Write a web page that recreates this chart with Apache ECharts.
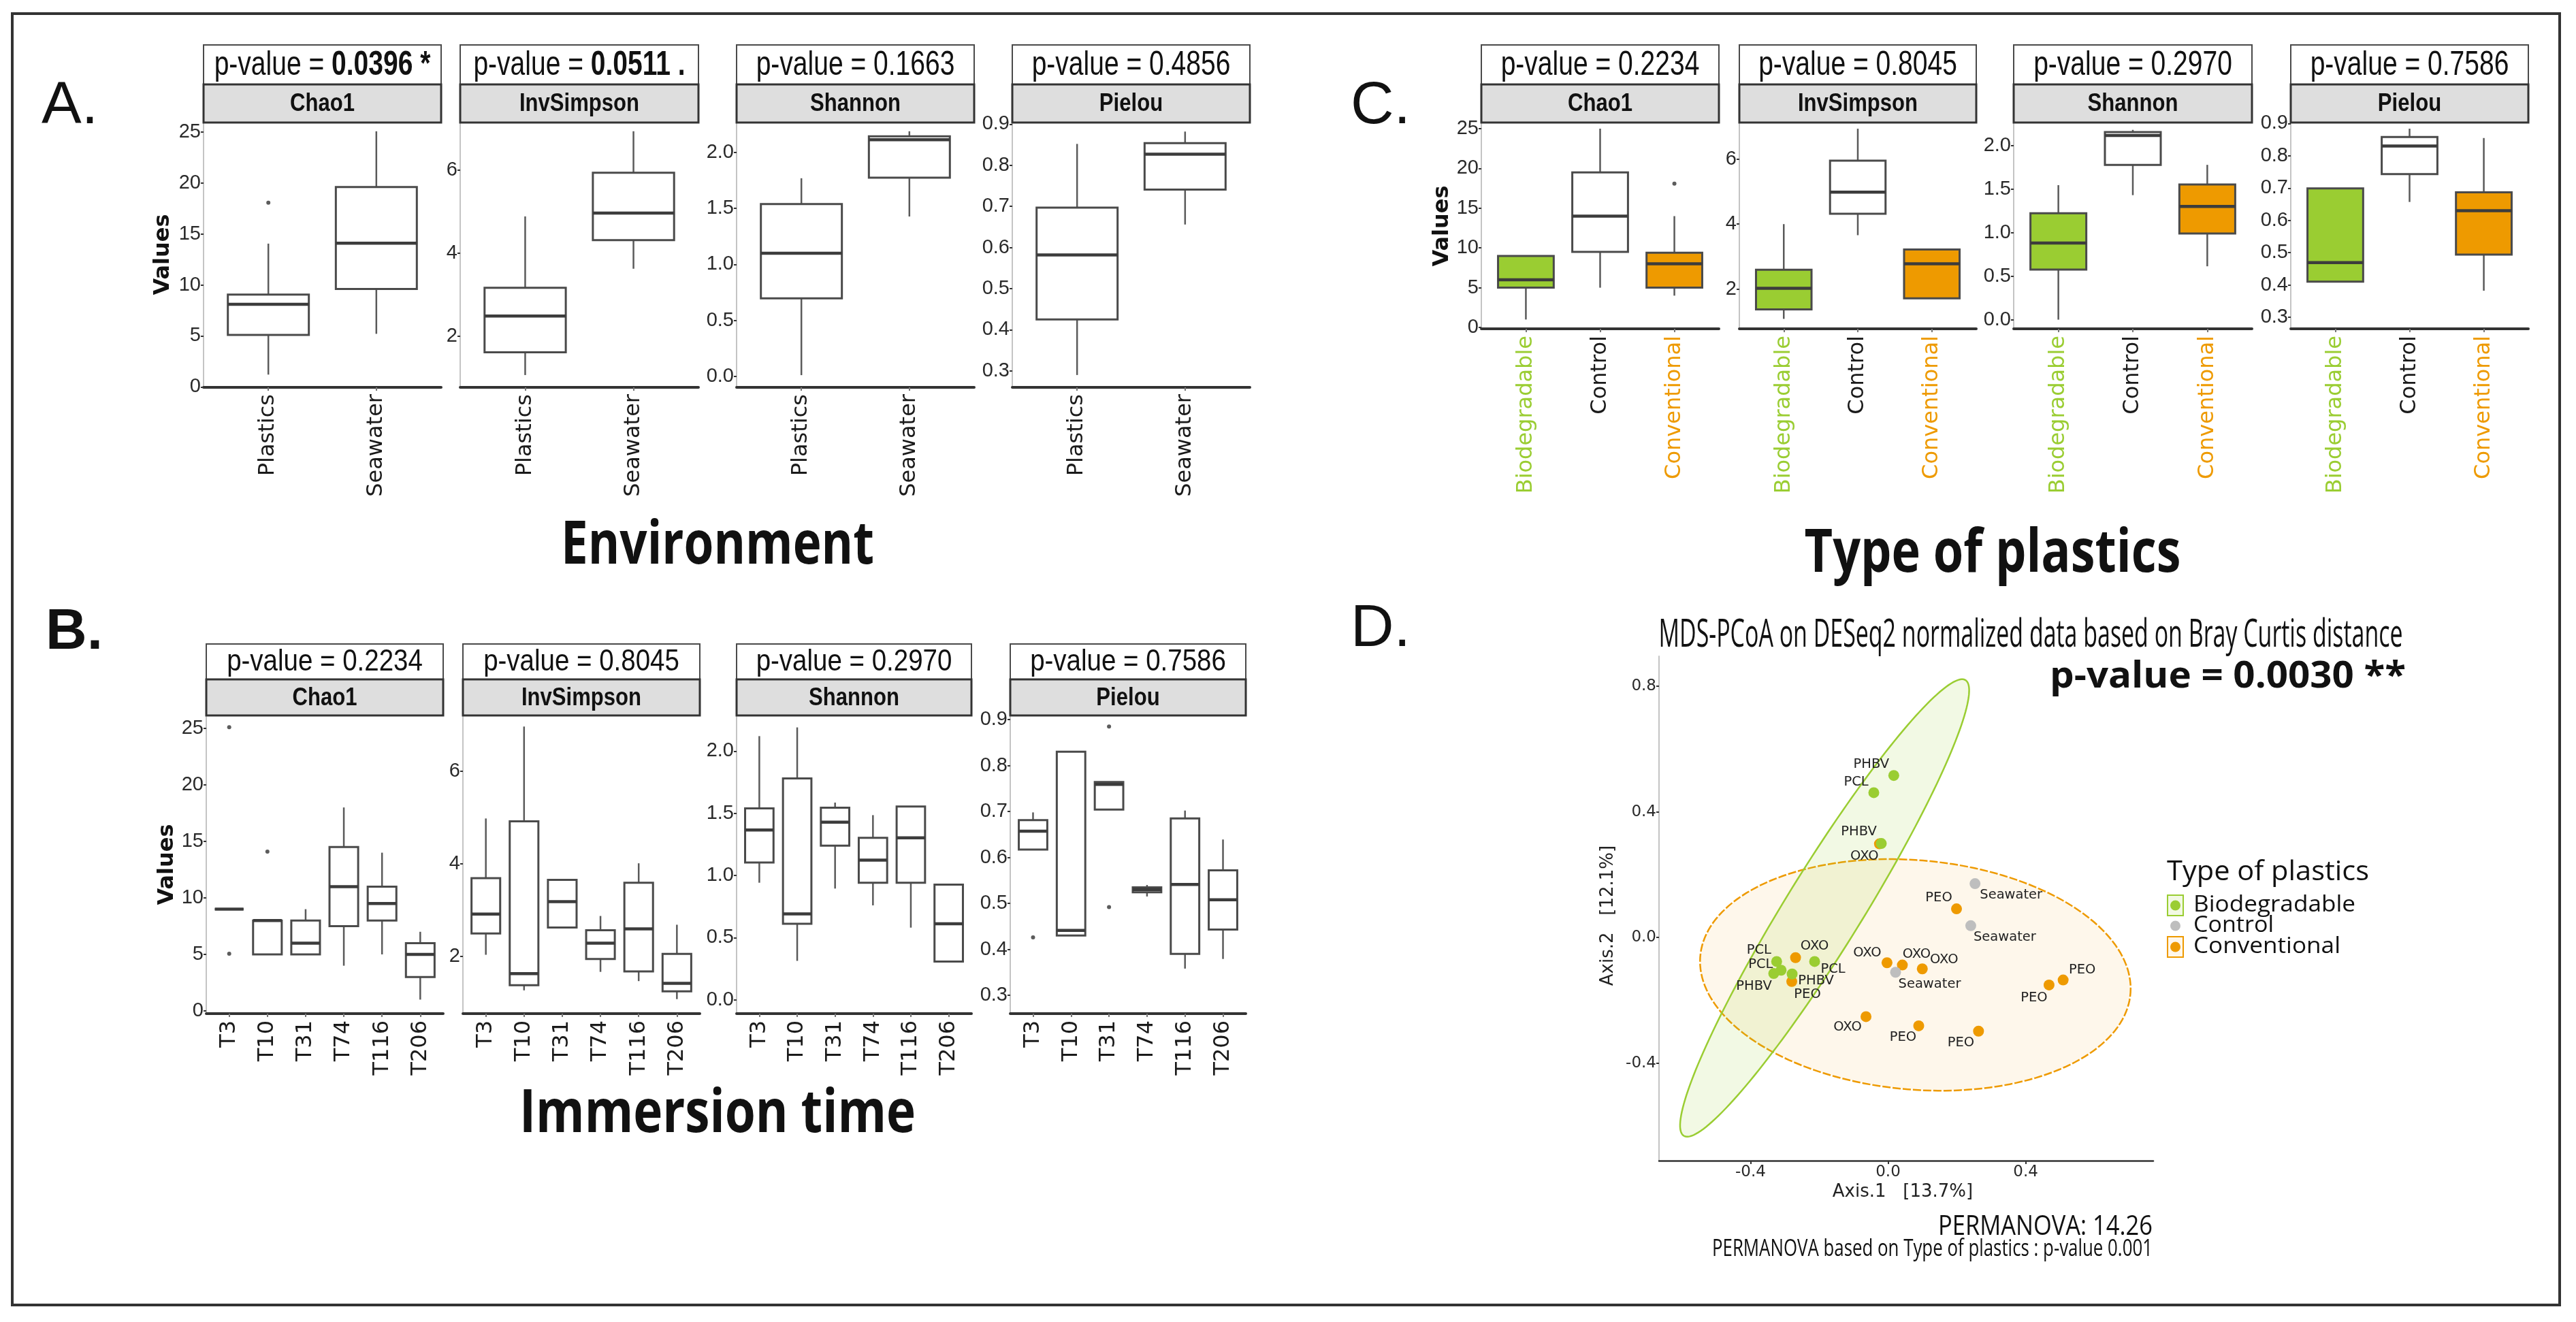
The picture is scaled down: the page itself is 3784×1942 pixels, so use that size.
<!DOCTYPE html>
<html><head><meta charset="utf-8">
<script src="https://cdn.jsdelivr.net/npm/echarts@6.0.0/dist/echarts.min.js"></script>
<style>html,body{margin:0;padding:0;background:#fff;}#main{width:3784px;height:1942px;}</style>
</head><body><div id="main"></div>
<script>
// ================= DATA =================
const metrics = ['Chao1', 'InvSimpson', 'Shannon', 'Pielou'];
const envCategories = ['Plastics', 'Seawater'];
const typeCategories = ['Biodegradable', 'Control', 'Conventional'];
const timeCategories = ['T3', 'T10', 'T31', 'T74', 'T116', 'T206'];

const envPValues = ['0.0396 *', '0.0511 .', '0.1663', '0.4856'];
const envPBold = [true, true, false, false];
const typePValues = ['0.2234', '0.8045', '0.2970', '0.7586'];
const timePValues = ['0.2234', '0.8045', '0.2970', '0.7586'];

// box stats per category: [lower whisker, Q1, median, Q3, upper whisker]
const envChao1 = [[1.2, 5.1, 8.1, 9.05, 14.05], [5.2, 9.6, 14.1, 19.6, 25.07]];
const envInvSimpson = [[1.07, 1.62, 2.49, 3.17, 4.89], [3.63, 4.32, 4.97, 5.94, 6.94]];
const envShannon = [[0.01, 0.696, 1.10, 1.54, 1.77], [1.428, 1.775, 2.115, 2.145, 2.19]];
const envPielou = [[0.29, 0.425, 0.582, 0.697, 0.852], [0.656, 0.741, 0.827, 0.854, 0.882]];
const envOutliers = [[[18.07], []], [[], []], [[], []], [[], []]];

const typeChao1 = [[1.0, 5.0, 6.0, 9.0, 9.0], [5.0, 9.5, 14.0, 19.5, 25.0], [4.0, 5.0, 8.0, 9.4, 14.0]];
const typeInvSimpson = [[1.09, 1.38, 2.03, 2.60, 4.0], [3.66, 4.32, 4.98, 5.95, 6.93], [1.72, 1.72, 2.78, 3.22, 3.22]];
const typeShannon = [[0.0, 0.575, 0.881, 1.222, 1.545], [1.43, 1.778, 2.116, 2.155, 2.18], [0.613, 0.99, 1.30, 1.552, 1.778]];
const typePielou = [[0.41, 0.41, 0.469, 0.699, 0.699], [0.657, 0.743, 0.830, 0.858, 0.884], [0.382, 0.494, 0.630, 0.687, 0.855]];
const typeOutliers = [[[], [], [18.08]], [[], [], []], [[], [], []], [[], [], []]];

const timeChao1 = [[9, 9, 9, 9, 9], [5, 5, 8, 8, 8], [5, 5, 6, 8, 9], [4, 7.5, 11, 14.5, 18], [5, 8, 9.5, 11, 14], [1, 3, 5, 6, 7]];
const timeInvSimpson = [[2.03, 2.49, 2.91, 3.69, 4.98], [1.26, 1.37, 1.62, 4.92, 6.97], [2.62, 2.62, 3.18, 3.65, 3.65], [1.66, 1.94, 2.28, 2.56, 2.87], [1.46, 1.67, 2.59, 3.59, 4.01], [1.07, 1.24, 1.41, 2.05, 2.68]];
const timeShannon = [[0.942, 1.105, 1.366, 1.539, 2.12], [0.314, 0.612, 0.691, 1.78, 2.19], [0.895, 1.24, 1.429, 1.545, 1.586], [0.76, 0.942, 1.124, 1.303, 1.485], [0.581, 0.942, 1.303, 1.554, 1.554], [0.308, 0.308, 0.612, 0.926, 0.926]];
const timePielou = [[0.617, 0.617, 0.657, 0.681, 0.698], [0.43, 0.43, 0.441, 0.830, 0.830], [0.704, 0.704, 0.759, 0.764, 0.764], [0.515, 0.524, 0.530, 0.535, 0.54], [0.358, 0.39, 0.541, 0.685, 0.702], [0.379, 0.443, 0.508, 0.572, 0.639]];
const timeOutliers = [[[25.1, 5.06], [14.1], [], [], [], []], [[], [], [], [], [], []], [[], [], [], [], [], []], [[0.426], [], [0.885, 0.492], [], [], []]];

// y-axis limits of each facet
const envYRange = [[-0.05, 25.93], [0.774, 7.15], [-0.099, 2.268], [0.26, 0.904]];
const typeYRange = [[-0.17, 25.77], [0.785, 7.12], [-0.105, 2.264], [0.264, 0.903]];
const timeYRange = [[-0.24, 26.14], [0.756, 7.21], [-0.11, 2.286], [0.26, 0.909]];

// tick values
const chao1Ticks = [0, 5, 10, 15, 20, 25];
const invSimpsonTicks = [2, 4, 6];
const shannonTicks = [0, 0.5, 1, 1.5, 2];
const pielouTicks = [0.3, 0.4, 0.5, 0.6, 0.7, 0.8, 0.9];

// PCoA points
const bioNames = ['PHBV', 'PCL', 'PHBV', 'PCL', 'PCL', 'PHBV', 'PHBV', 'PCL'];
const bioX = [0.0166, -0.0415, -0.0197, -0.324, -0.311, -0.3325, -0.279, -0.2136];
const bioY = [0.5155, 0.4608, 0.2991, -0.0763, -0.104, -0.1146, -0.116, -0.0763];
const convNames = ['OXO', 'OXO', 'PEO', 'PEO', 'OXO', 'OXO', 'OXO', 'PEO', 'PEO', 'OXO', 'PEO', 'PEO'];
const convX = [-0.025, -0.269, -0.280, 0.199, -0.0031, 0.0415, 0.0995, 0.509, 0.468, -0.0642, 0.0891, 0.263];
const convY = [0.298, -0.064, -0.140, 0.0912, -0.0802, -0.0875, -0.0997, -0.135, -0.151, -0.2517, -0.2809, -0.2979];
const ctrlNames = ['Seawater', 'Seawater', 'Seawater'];
const ctrlX = [0.2528, 0.2404, 0.0218];
const ctrlY = [0.1714, 0.0377, -0.1106];
const pcoaXTicks = [-0.4, 0, 0.4];
const pcoaYTicks = [-0.4, 0, 0.4, 0.8];
const pcoaXRange = [-0.666, 0.771];
const pcoaYRange = [-0.71, 0.895];
// ellipses: centre and two conjugate semi-diameters, in data units
const ellipseBio = [-0.1845, 0.094, 0.4095, 0.725, 0.0945, -0.0637];
const ellipseConv = [0.0793, -0.119, 0.626, -0.0433, 0.0, -0.3658];

// ================= STYLE / LAYOUT =================
const GREEN = '#9ACD32', ORANGE = '#EE9A00', GREY = '#BEBEBE';
const bioLabelOffset = [[-33, -16], [-26, -16], [-33, -17], [-26, -16], [-30, -8], [-29, 19], [35, 10], [27, 12]];
const convLabelOffset = [[-22, 18], [28, -17], [23, 19], [-26, -16], [-29, -14], [21, -16], [32, -13], [28, -15], [-22, 19], [-27, 16], [-23, 17], [-26, 17]];
const ctrlLabelOffset = [[53, 17], [50, 17], [50, 18]];

const rowA = { pTop: 66, stripTop: 124, stripBottom: 180, plotBottom: 569, xs: [[299, 648], [676, 1026], [1082, 1431], [1487, 1836]] };
const rowB = { pTop: 946, stripTop: 998, stripBottom: 1051, plotBottom: 1489, xs: [[303, 651], [680, 1028], [1082, 1427], [1484, 1830]] };
const rowC = { pTop: 66, stripTop: 124, stripBottom: 180, plotBottom: 483, xs: [[2176, 2525], [2555, 2903], [2958, 3308], [3365, 3714]] };

const mctx = document.createElement('canvas').getContext('2d');
function textW(text, size, family, weight) {
  mctx.font = (weight || 'normal') + ' ' + size + 'px "' + family + '"';
  return mctx.measureText(text).width;
}

const grids = [], xAxes = [], yAxes = [], series = [], graphics = [];

function addText(x, y, text, o) {
  const fs = o.fs, ff = o.ff || 'Liberation Sans', fw = o.fw || 'normal';
  let sx = 1;
  if (o.target) sx = o.target / textW(text, fs, ff, fw);
  if (o.sx) sx = o.sx;
  graphics.push({
    type: 'text', x: x, y: y, scaleX: sx, rotation: o.rot || 0, z: 20,
    style: { text: text, x: 0, y: 0, align: o.align || 'center', verticalAlign: 'middle',
      fontFamily: ff, fontSize: fs, fontWeight: fw, fill: o.color || '#111' }
  });
}

const tickSets = [
  { ticks: chao1Ticks, fmt: v => String(v) },
  { ticks: invSimpsonTicks, fmt: v => String(v) },
  { ticks: shannonTicks, fmt: v => v.toFixed(1) },
  { ticks: pielouTicks, fmt: v => v.toFixed(1) }
];

function boxRenderer(fills) {
  return function (params, api) {
    const x = api.value(0);
    const lo = api.value(1), q1 = api.value(2), med = api.value(3), q3 = api.value(4), hi = api.value(5);
    const pLo = api.coord([x, lo]), pQ1 = api.coord([x, q1]), pMed = api.coord([x, med]);
    const pQ3 = api.coord([x, q3]), pHi = api.coord([x, hi]);
    const l = api.coord([x - 0.375, med])[0], r = api.coord([x + 0.375, med])[0];
    const fill = fills ? fills[params.dataIndex] : '#ffffff';
    return { type: 'group', children: [
      { type: 'line', shape: { x1: pLo[0], y1: pLo[1], x2: pQ1[0], y2: pQ1[1] }, style: { stroke: '#5a5a5a', lineWidth: 2.5 } },
      { type: 'line', shape: { x1: pQ3[0], y1: pQ3[1], x2: pHi[0], y2: pHi[1] }, style: { stroke: '#5a5a5a', lineWidth: 2.5 } },
      { type: 'rect', shape: { x: l, y: pQ3[1], width: r - l, height: Math.max(pQ1[1] - pQ3[1], 0) }, style: { fill: fill, stroke: '#4a4a4a', lineWidth: 3 } },
      { type: 'line', shape: { x1: l, y1: pMed[1], x2: r, y2: pMed[1] }, style: { stroke: '#3c3c3c', lineWidth: 4.5 } }
    ] };
  };
}

function addPanel(row, k, cats, boxes, outs, yRange, pText, pBold, pStyle, fills, labelColors) {
  const [L, R] = row.xs[k];
  const gi = grids.length;
  grids.push({ left: L, top: row.stripBottom, width: R - L, height: row.plotBottom - row.stripBottom, containLabel: false });
  const n = cats.length;
  const xs = cats.map((_, i) => i + 1);
  const rich = {};
  if (labelColors) labelColors.forEach((c, i) => { rich['c' + i] = { color: c, fontFamily: 'DejaVu Sans', fontSize: 32 }; });
  xAxes.push({
    gridIndex: gi, type: 'value', min: 0.4, max: n + 0.6, splitLine: { show: false },
    axisLine: { show: true, onZero: false, lineStyle: { color: '#333', width: 4 } },
    axisTick: { show: true, customValues: xs, length: 5, lineStyle: { color: '#777', width: 2 } },
    axisLabel: { show: true, customValues: xs, rotate: 90, margin: 10, fontFamily: 'DejaVu Sans', fontSize: 32, color: '#1a1a1a',
      formatter: labelColors ? (v => '{c' + (Math.round(v) - 1) + '|' + cats[Math.round(v) - 1] + '}') : (v => cats[Math.round(v) - 1]),
      rich: labelColors ? rich : undefined }
  });
  const ts = tickSets[k];
  yAxes.push({
    gridIndex: gi, type: 'value', min: yRange[0], max: yRange[1], splitLine: { show: false },
    axisLine: { show: true, onZero: false, lineStyle: { color: '#c4c4c4', width: 2 } },
    axisTick: { show: true, customValues: ts.ticks, length: 4, lineStyle: { color: '#333', width: 2 } },
    axisLabel: { show: true, customValues: ts.ticks, margin: 4, fontFamily: 'Liberation Sans', fontSize: 29, color: '#2a2a2a', formatter: ts.fmt }
  });
  series.push({ type: 'custom', xAxisIndex: gi, yAxisIndex: gi, clip: false, z: 3,
    data: boxes.map((b, i) => [i + 1, b[0], b[1], b[2], b[3], b[4]]), renderItem: boxRenderer(fills) });
  const od = [];
  outs.forEach((arr, i) => arr.forEach(v => od.push([i + 1, v])));
  if (od.length) series.push({ type: 'scatter', xAxisIndex: gi, yAxisIndex: gi, data: od, symbolSize: 6, itemStyle: { color: '#333' }, z: 4 });

  // facet strips
  graphics.push({ type: 'rect', z: 5, shape: { x: L, y: row.pTop, width: R - L, height: row.stripTop - row.pTop }, style: { fill: '#fff', stroke: '#4a4a4a', lineWidth: 2 } });
  graphics.push({ type: 'rect', z: 6, shape: { x: L, y: row.stripTop, width: R - L, height: row.stripBottom - row.stripTop }, style: { fill: '#dedede', stroke: '#333', lineWidth: 3 } });
  const cx = (L + R) / 2;
  const pre = 'p-value = ';
  graphics.push({
    type: 'text', x: cx, y: (row.pTop + row.stripTop) / 2 + 1, scaleX: pStyle.sx, z: 20,
    style: { text: '{n|' + pre + '}{' + (pBold ? 'b' : 'n') + '|' + pText + '}', x: 0, y: 0, align: 'center', verticalAlign: 'middle',
      rich: { n: { fontFamily: pStyle.ff, fontSize: pStyle.fs, fontWeight: 'normal', fill: '#111' },
              b: { fontFamily: pStyle.ff, fontSize: pStyle.fs, fontWeight: 'bold', fill: '#111' } } }
  });
  addText(cx, (row.stripTop + row.stripBottom) / 2 + 1, metrics[k], { fs: 37, fw: 'bold', ff: 'Liberation Sans', sx: 0.84, color: '#111' });
}

const pStyleAC = { ff: 'Liberation Sans', fs: 50, sx: 0.78 };
const pStyleB = { ff: 'Liberation Sans', fs: 45, sx: 0.855 };

const envData = [envChao1, envInvSimpson, envShannon, envPielou];
const typeData = [typeChao1, typeInvSimpson, typeShannon, typePielou];
const timeData = [timeChao1, timeInvSimpson, timeShannon, timePielou];
for (let k = 0; k < 4; k++) {
  addPanel(rowA, k, envCategories, envData[k], envOutliers[k], envYRange[k], envPValues[k], envPBold[k], pStyleAC, null, null);
  addPanel(rowC, k, typeCategories, typeData[k], typeOutliers[k], typeYRange[k], typePValues[k], false, pStyleAC, [GREEN, '#ffffff', ORANGE], [GREEN, '#1a1a1a', ORANGE]);
  addPanel(rowB, k, timeCategories, timeData[k], timeOutliers[k], timeYRange[k], timePValues[k], false, pStyleB, null, null);
}

// "Values" axis titles
addText(240, 374, 'Values', { fs: 32, fw: 'bold', ff: 'DejaVu Sans', rot: Math.PI / 2 });
addText(2119, 332, 'Values', { fs: 32, fw: 'bold', ff: 'DejaVu Sans', rot: Math.PI / 2 });
addText(246, 1270, 'Values', { fs: 32, fw: 'bold', ff: 'DejaVu Sans', rot: Math.PI / 2 });

// ================= PCoA panel =================
const dg = grids.length;
grids.push({ left: 2437, top: 964, width: 3163 - 2437, height: 1705 - 964, containLabel: false });
xAxes.push({ gridIndex: dg, type: 'value', min: pcoaXRange[0], max: pcoaXRange[1], splitLine: { show: false },
  axisLine: { show: true, onZero: false, lineStyle: { color: '#333', width: 2.5 } },
  axisTick: { show: true, customValues: pcoaXTicks, length: 5, lineStyle: { color: '#333', width: 2 } },
  axisLabel: { show: true, customValues: pcoaXTicks, margin: 6, fontFamily: 'DejaVu Sans', fontSize: 23, color: '#2a2a2a', formatter: v => v.toFixed(1) } });
yAxes.push({ gridIndex: dg, type: 'value', min: pcoaYRange[0], max: pcoaYRange[1], splitLine: { show: false },
  axisLine: { show: true, onZero: false, lineStyle: { color: '#c4c4c4', width: 2 } },
  axisTick: { show: true, customValues: pcoaYTicks, length: 4, lineStyle: { color: '#333', width: 2 } },
  axisLabel: { show: true, customValues: pcoaYTicks, margin: 4, fontFamily: 'DejaVu Sans', fontSize: 23, color: '#2a2a2a', formatter: v => v.toFixed(1) } });

function ellipseRenderer(fill, stroke, dash) {
  return function (params, api) {
    const cx = api.value(0), cy = api.value(1), ux = api.value(2), uy = api.value(3), vx = api.value(4), vy = api.value(5);
    const pts = [];
    for (let i = 0; i < 180; i++) {
      const t = i / 180 * Math.PI * 2;
      pts.push(api.coord([cx + ux * Math.cos(t) + vx * Math.sin(t), cy + uy * Math.cos(t) + vy * Math.sin(t)]));
    }
    return { type: 'polygon', shape: { points: pts }, style: { fill: fill, stroke: stroke, lineWidth: 2.5, lineDash: dash } };
  };
}
series.push({ type: 'custom', xAxisIndex: dg, yAxisIndex: dg, clip: false, z: 1, data: [ellipseConv], renderItem: ellipseRenderer('rgba(238,154,0,0.08)', ORANGE, [12, 3]) });
series.push({ type: 'custom', xAxisIndex: dg, yAxisIndex: dg, clip: false, z: 1, data: [ellipseBio], renderItem: ellipseRenderer('rgba(154,205,50,0.13)', GREEN, null) });

function pointSeries(names, xs, ys, offs, color) {
  return { type: 'scatter', xAxisIndex: dg, yAxisIndex: dg, z: 5, symbolSize: 16, itemStyle: { color: color, opacity: 1 },
    data: names.map((nm, i) => ({ name: nm, value: [xs[i], ys[i]] })),
    label: { show: true, position: 'inside', formatter: '{b}', fontFamily: 'DejaVu Sans', fontSize: 19.5, color: '#222' },
    labelLayout: function (p) { const o = offs[p.dataIndex]; return { dx: o[0], dy: o[1], hideOverlap: false }; } };
}
series.push(pointSeries(convNames, convX, convY, convLabelOffset, ORANGE));
series.push(pointSeries(ctrlNames, ctrlX, ctrlY, ctrlLabelOffset, GREY));
series.push(pointSeries(bioNames, bioX, bioY, bioLabelOffset, GREEN));

addText(2795, 1751, 'Axis.1   [13.7%]', { fs: 26, ff: 'DejaVu Sans', color: '#222' });
addText(2362, 1345, 'Axis.2   [12.1%]', { fs: 26, ff: 'DejaVu Sans', color: '#222', rot: Math.PI / 2 });
addText(2983, 934, 'MDS-PCoA on DESeq2 normalized data based on Bray Curtis distance', { fs: 56, ff: 'Open Sans', target: 1093 });
addText(3534, 995, 'p-value = 0.0030 **', { fs: 54, fw: 'bold', ff: 'Open Sans', target: 523, align: 'right' });
addText(3162, 1803, 'PERMANOVA: 14.26', { fs: 40, ff: 'Open Sans', target: 315, align: 'right' });
addText(3162, 1835, 'PERMANOVA based on Type of plastics : p-value 0.001', { fs: 34, ff: 'Open Sans', target: 647, align: 'right' });

// legend
addText(3183, 1282, 'Type of plastics', { fs: 40, ff: 'Open Sans', target: 297, align: 'left' });
const legendItems = [['Biodegradable', GREEN, 'rgba(154,205,50,0.13)', 1330, 238], ['Control', GREY, null, 1360, 118], ['Conventional', ORANGE, 'rgba(238,154,0,0.08)', 1391, 216]];
legendItems.forEach(it => {
  if (it[2]) graphics.push({ type: 'rect', z: 15, shape: { x: 3184, y: it[3] - 15, width: 23, height: 30 }, style: { fill: it[2], stroke: it[1], lineWidth: 2 } });
  graphics.push({ type: 'circle', z: 16, shape: { cx: 3195.5, cy: it[3], r: 7.5 }, style: { fill: it[1] } });
  addText(3222, it[3], it[0], { fs: 33, ff: 'Open Sans', target: it[4], align: 'left' });
});

// panel letters and section titles
addText(61, 157, 'A.', { fs: 88, ff: 'Liberation Sans', align: 'left' });
addText(67, 930, 'B.', { fs: 84, ff: 'Liberation Sans', fw: 'bold', align: 'left' });
addText(1984, 157, 'C.', { fs: 88, ff: 'Liberation Sans', align: 'left' });
addText(1984, 925, 'D.', { fs: 88, ff: 'Liberation Sans', align: 'left' });
addText(1054, 803, 'Environment', { fs: 88, fw: 'bold', ff: 'Open Sans', target: 460 });
addText(1054, 1638, 'Immersion time', { fs: 88, fw: 'bold', ff: 'Open Sans', target: 582 });
addText(2927, 815, 'Type of plastics', { fs: 88, fw: 'bold', ff: 'Open Sans', target: 553 });

// outer frame
graphics.push({ type: 'rect', z: 30, shape: { x: 18, y: 20, width: 3742, height: 1897 }, style: { fill: 'none', stroke: '#333', lineWidth: 4 } });

const chart = echarts.init(document.getElementById('main'), null, { renderer: 'canvas', width: 3784, height: 1942 });
chart.setOption({
  animation: false,
  backgroundColor: '#ffffff',
  grid: grids, xAxis: xAxes, yAxis: yAxes, series: series,
  graphic: { elements: graphics }
});
</script></body></html>
